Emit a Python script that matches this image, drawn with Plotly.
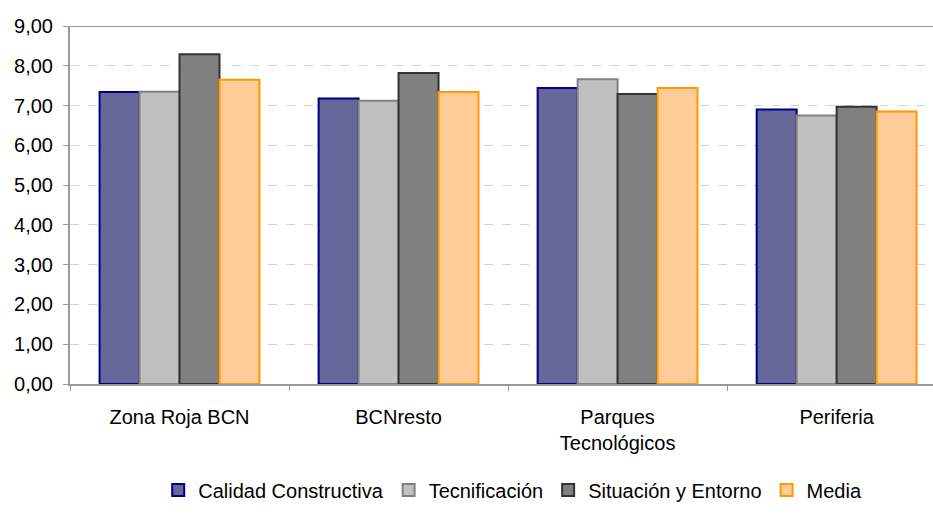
import plotly.graph_objects as go

categories = ["Zona Roja BCN", "BCNresto", "Parques<br>Tecnológicos", "Periferia"]
series_names = ["Calidad Constructiva", "Tecnificación", "Situación y Entorno", "Media"]
calidad = [7.34, 7.18, 7.44, 6.90]
tecnificacion = [7.35, 7.12, 7.66, 6.75]
situacion = [8.29, 7.82, 7.29, 6.97]
media = [7.65, 7.34, 7.44, 6.85]
y_ticks = [0, 1, 2, 3, 4, 5, 6, 7, 8, 9]
y_tick_labels = ["0,00", "1,00", "2,00", "3,00", "4,00", "5,00", "6,00", "7,00", "8,00", "9,00"]

fills = ["#666699", "#C0C0C0", "#808080", "#FFCC99"]
borders = ["#000080", "#808080", "#333333", "#FF9900"]

fig = go.Figure()
for name, vals, fc, lc in zip(series_names, [calidad, tecnificacion, situacion, media], fills, borders):
    fig.add_trace(go.Bar(
        x=categories, y=vals, name=name,
        marker=dict(color=fc, line=dict(color=lc, width=2)),
    ))

fig.update_layout(
    width=933, height=527,
    margin=dict(l=70, r=0, t=26, b=143),
    paper_bgcolor="white", plot_bgcolor="white",
    barmode="group", bargap=0.27, bargroupgap=0,
    font=dict(family="Liberation Sans, Arial, sans-serif", size=20, color="black"),
    legend=dict(orientation="h", x=0.513, xanchor="center", y=-0.296, yanchor="middle",
                font=dict(size=20), itemwidth=30, tracegroupgap=0),
    showlegend=True,
)
fig.update_xaxes(
    range=[-0.5, 3.44],
    showline=True, linecolor="#999999", linewidth=2, mirror=False,
    ticks="outside", tickson="boundaries", ticklen=5, tickcolor="#999999",
    showgrid=False, tickfont=dict(size=20), ticklabelstandoff=14,
)
fig.update_yaxes(
    range=[0, 9], tickvals=y_ticks, ticktext=y_tick_labels,
    showline=True, linecolor="#999999", linewidth=2,
    ticks="outside", ticklen=5, tickcolor="#999999",
    showgrid=True, gridcolor="#D4D4D4", griddash="dash", gridwidth=1,
    zeroline=False, tickfont=dict(size=20), ticklabelstandoff=6,
)
fig.add_shape(type="line", xref="paper", yref="y", x0=0, x1=1, y0=9, y1=9,
              line=dict(color="#999999", width=2))

fig.write_html("out.html")
